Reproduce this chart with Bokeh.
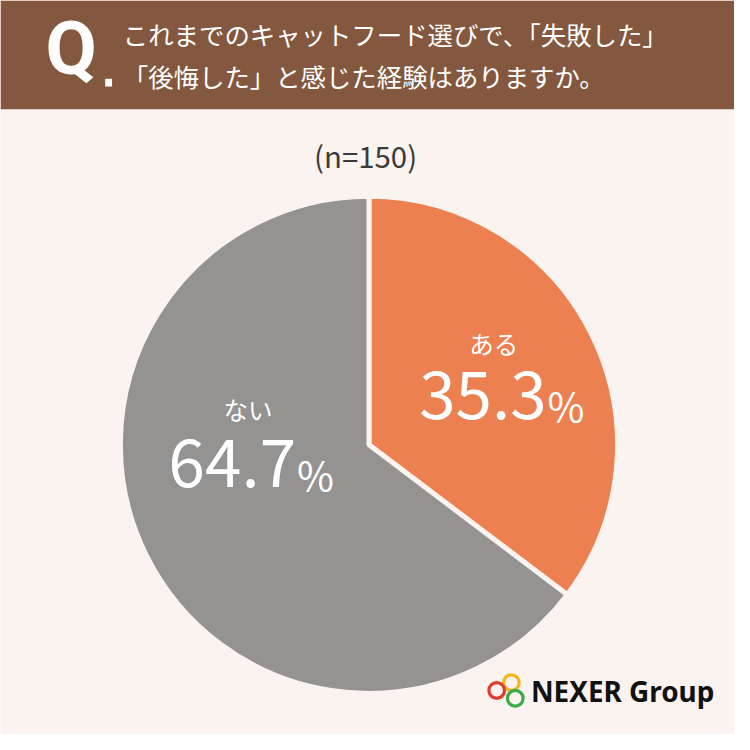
import math
from bokeh.plotting import figure
from bokeh.models import Range1d, ColumnDataSource
from bokeh.core.properties import value
from bokeh.embed import file_html
from bokeh.resources import INLINE

# ---- data ----
categories = ["ある", "ない"]
percentages = [35.3, 64.7]
sample_size = 150
title_lines = ["これまでのキャットフード選びで、「失敗した」",
               "「後悔した」と感じた経験はありますか。"]
slice_colors = ["#EC8050", "#949391"]

BG = "#FBF3F0"
BROWN = "#83583F"
W = 734
S = W / 750.0
JP = "Noto Sans CJK JP"


def Y(y):
    return 750 - y


def fs(px):
    return f"{px * S:.1f}px"


p = figure(width=W, height=W, x_range=Range1d(0, 750), y_range=Range1d(0, 750),
           output_backend="svg", toolbar_location=None, min_border=0)
p.axis.visible = False
p.grid.visible = False
p.outline_line_color = None
p.background_fill_color = BG
p.border_fill_color = BG

# header band
p.quad(left=0, right=750, bottom=Y(111), top=750, fill_color=BROWN, line_color=None)
p.text(x=[46], y=[Y(49)], text=["Q"], text_font=value("Roboto"), text_font_style="bold",
       text_font_size=fs(76), text_color="white", text_align="left", text_baseline="middle")
p.quad(left=107, right=114, bottom=Y(88), top=Y(80), fill_color="white", line_color=None)
p.text(x=[125, 125], y=[Y(34), Y(77)], text=title_lines, text_font=value(JP),
       text_font_size=fs(26), text_color="white", text_align="left", text_baseline="middle")

# sample size
p.text(x=[373], y=[Y(158)], text=[f"(n={sample_size})"], text_font=value(JP),
       text_font_size=fs(30), text_color="#3A3A3A", text_align="center", text_baseline="middle")

# pie
cx, cy, r = 376.5, Y(454), 254
total = sum(percentages)
starts, ends = [], []
acc = 0.0
for v in percentages:
    a0 = math.pi / 2 - 2 * math.pi * (acc + v) / total
    a1 = math.pi / 2 - 2 * math.pi * acc / total
    starts.append(a0)
    ends.append(a1)
    acc += v
src = ColumnDataSource(dict(start=starts, end=ends, color=slice_colors, cat=categories))
p.wedge(x=cx, y=cy, radius=r, start_angle="start", end_angle="end", direction="anticlock",
        fill_color="color", line_color=BG, line_width=5, source=src)

# labels: (category x, category y, number right edge, number cap-centre y)
lab = [
    (504, 350, 558, 403),
    (253, 418, 302, 473),
]
for i, (lx, ly, nx, ny) in enumerate(lab):
    p.text(x=[lx], y=[Y(ly)], text=[categories[i]], text_font=value(JP),
           text_font_size=fs(25), text_color="white", text_align="center", text_baseline="middle")
    p.text(x=[nx], y=[Y(ny)], text=[f"{percentages[i]:.1f}"], text_font=value(JP),
           text_font_size=fs(67), text_color="white", text_align="right", text_baseline="middle")
    p.text(x=[nx + 1], y=[Y(ny + 10)], text=["%"], text_font=value(JP),
           text_font_size=fs(41), text_color="white", text_align="left", text_baseline="middle")

# logo
p.circle(x=[522, 507, 526], y=[Y(697), Y(705), Y(713)], radius=8,
         fill_alpha=0, line_color=["#F2B71E", "#E23B2E", "#3DAA48"], line_width=3.2)
p.text(x=[542], y=[Y(706)], text=["NEXER Group"], text_font=value("Noto Sans"),
       text_font_style="bold", text_font_size=fs(28.5), text_color="#111111",
       text_align="left", text_baseline="middle")

open("out.html", "w").write(file_html(p, INLINE))
